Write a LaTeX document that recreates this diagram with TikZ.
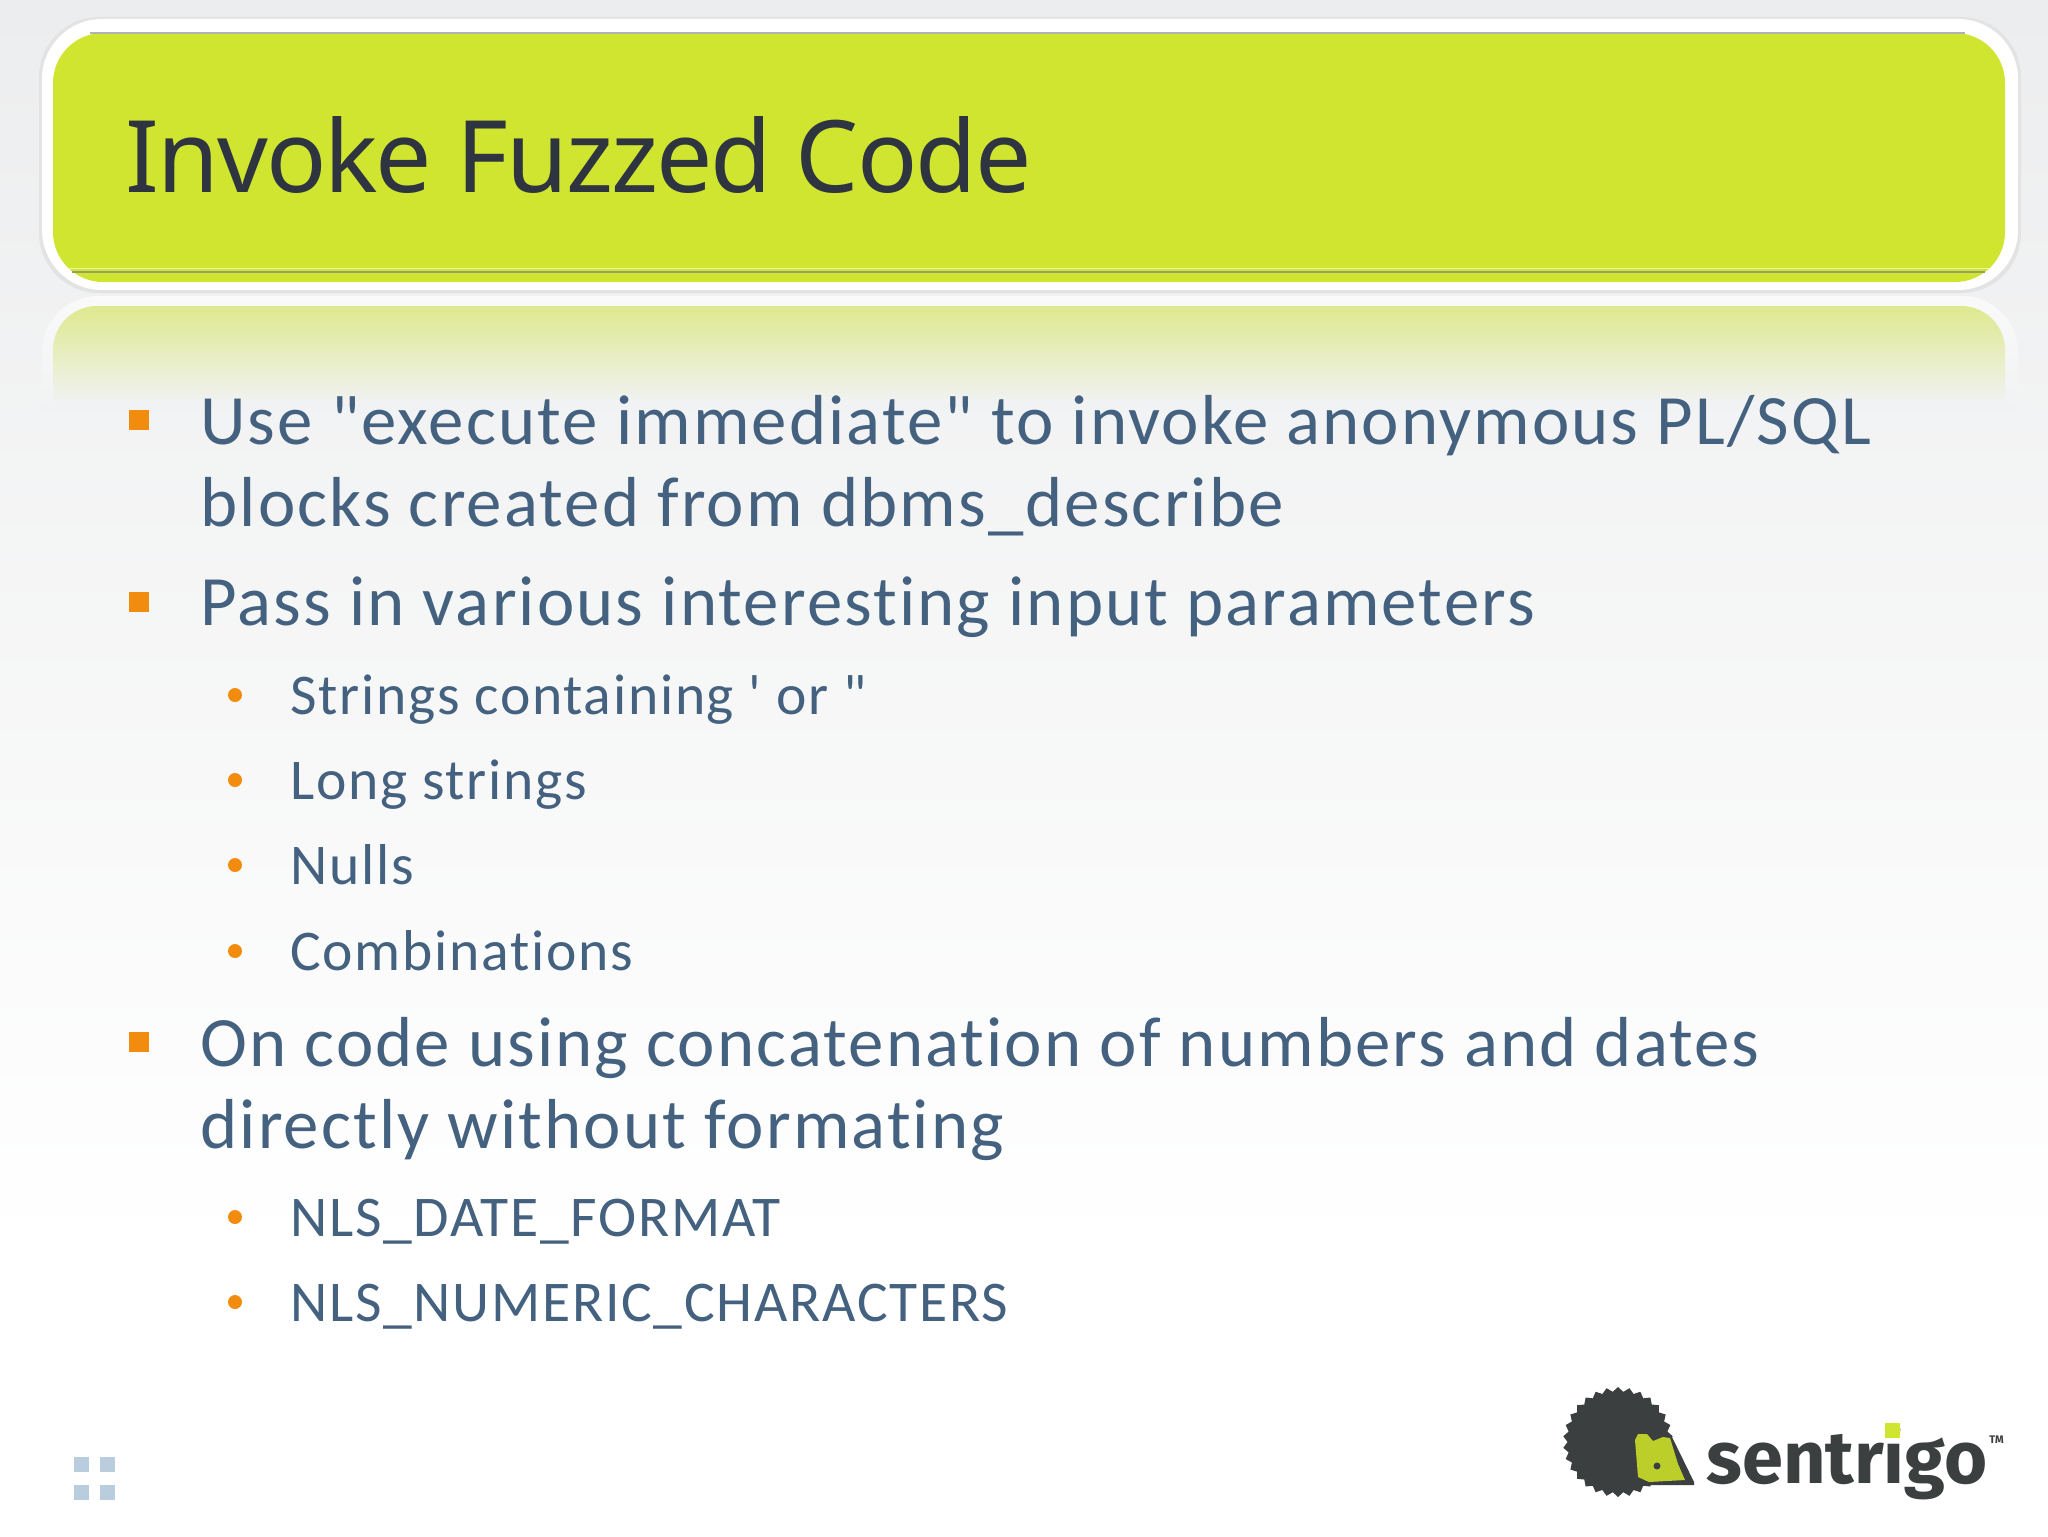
\documentclass[tikz,border=0pt]{standalone}
\usepackage{fontspec}
\usetikzlibrary{shapes.geometric}
\newfontfamily\titlefont[LetterSpace=-2]{Noto Sans}
\newfontfamily\bodyfont[Ligatures={NoCommon},LetterSpace=3]{Carlito}
\newfontfamily\logofont{Fira Sans Bold}
\definecolor{bgtop}{HTML}{ECEDEE}
\definecolor{bgmid}{HTML}{F1F2F3}
\definecolor{limegreen}{HTML}{D0E52F}
\definecolor{titleink}{HTML}{2F3540}
\definecolor{bodyink}{HTML}{44627F}
\definecolor{bulletorange}{HTML}{F28C0F}
\definecolor{logoink}{HTML}{3C3F40}
\definecolor{cornerblue}{HTML}{B9CDDF}
\tikzset{
  bigitem/.style={anchor=base west,inner sep=0pt,text=bodyink,font=\bodyfont\fontsize{35.4}{36}\selectfont},
  smallitem/.style={anchor=base west,inner sep=0pt,text=bodyink,font=\bodyfont\fontsize{28.8}{29}\selectfont},
  bigmark/.style={fill=bulletorange,minimum size=10pt,inner sep=0pt},
  smallmark/.style={circle,fill=bulletorange,minimum size=7pt,inner sep=0pt},
  cornermark/.style={fill=cornerblue,minimum size=7.5pt,inner sep=0pt}
}
\begin{document}
\begin{tikzpicture}[x=0.5pt,y=-0.5pt]
  \useasboundingbox (0,0) rectangle (2048,1536);
  %
  % Background
  \shade[top color=bgtop,bottom color=white] (0,0) rectangle (2048,1250);
  \fill[white] (0,1250) rectangle (2048,1536);
  %
  % Reflection of the title bar
  \shade[top color=white!70!bgtop,bottom color=bgmid] (42,410) [rounded corners=28pt]
    -- (42,296) -- (2018,296) [sharp corners] -- (2018,410) -- cycle;
  \shade[top color=limegreen!50!bgtop,bottom color=bgmid] (53,402) [rounded corners=22pt]
    -- (53,306) -- (2005,306) [sharp corners] -- (2005,402) -- cycle;
  %
  % Title bar
  \fill[gray!22,rounded corners=30pt] (39,17) rectangle (2021,293);
  \fill[white,rounded corners=30pt] (42,19) rectangle (2018,290);
  \fill[limegreen,rounded corners=25pt] (53,33) rectangle (2005,282);
  \draw[gray!60,line width=0.6pt] (90,33) -- (1965,33);
  \draw[white!60!limegreen,line width=0.8pt] (68,268.5) -- (1990,268.5);
  \draw[gray!70!limegreen,line width=1pt] (72,271.5) -- (1985,271.5);
  \node[anchor=base west,inner sep=0pt,text=titleink,font=\titlefont\fontsize{50}{50}\selectfont]
    (title) at (125,192) {Invoke Fuzzed Code};
  %
  % Main items
  \node[bigitem] (use) at (200,444) {Use "execute immediate" to invoke anonymous PL/SQL};
  \node[bigitem] (blocks) at (200,526) {blocks created from dbms\_describe};
  \node[bigitem] (pass) at (200,625) {Pass in various interesting input parameters};
  \node[bigitem] (concat) at (200,1066) {On code using concatenation of numbers and dates};
  \node[bigitem] (direct) at (200,1148) {directly without formating};
  \foreach \name/\ypos in {use/420,pass/602,concat/1042}
    \node[bigmark] (mark\name) at (139,\ypos) {};
  %
  % Sub items
  \foreach \name/\ypos/\words in {str/714/{Strings containing ' or "},lng/799/{Long strings},
      nul/884/{Nulls},cmb/970/{Combinations},dat/1236/{NLS\_DATE\_FORMAT},num/1321/{NLS\_NUMERIC\_CHARACTERS}}{
    \node[smallitem] (\name) at (290,\ypos) {\words};
  }
  \foreach \name/\ypos in {str/695,lng/780,nul/865,cmb/951,dat/1217,num/1302}
    \node[smallmark] (mark\name) at (235,\ypos) {};
  %
  % Corner squares
  \foreach \xpos in {81.5,107.5}
    \foreach \ypos in {1464.5,1492.5}
      \node[cornermark] at (\xpos,\ypos) {};
  %
  % Logo
  \node[star,star points=30,star point ratio=1.09,fill=logoink,minimum size=55pt,inner sep=0pt]
    (gear) at (1618,1442) {};
  \fill[logoink] (1671,1435) -- (1694,1482) -- (1694,1485) -- (1649,1485) -- cycle;
  \fill[limegreen!90!black] (1635,1440) -- (1638,1434) -- (1647,1434) -- (1653,1441) -- (1663,1437)
    -- (1670,1438) -- (1678,1464) -- (1685,1480) -- (1649,1482) -- (1638,1477) -- cycle;
  \fill[logoink] (1657,1466) circle [radius=1.75pt];
  \node[anchor=base west,inner sep=0pt,text=logoink,font=\logofont\fontsize{37}{37}\selectfont]
    (brand) at (1706,1483) {sentrigo};
  \fill[limegreen] (1885,1423) rectangle (1900,1438);
  \node[anchor=base west,inner sep=0pt,text=logoink,font=\logofont\fontsize{5.5}{6}\selectfont]
    (trade) at (1989,1443) {TM};
\end{tikzpicture}
\end{document}
